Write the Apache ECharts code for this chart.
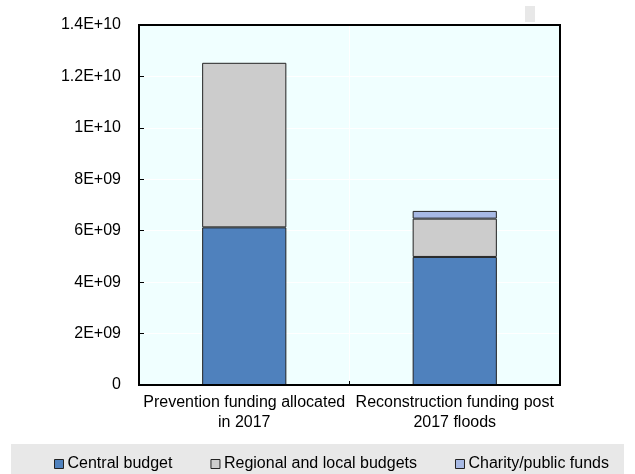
<!DOCTYPE html>
<html>
<head>
<meta charset="utf-8">
<script src="https://cdn.jsdelivr.net/npm/echarts@6/dist/echarts.min.js"></script>
<style>
  html, body { margin: 0; padding: 0; background: #fff; }
  #chart { width: 635px; height: 474px; }
</style>
</head>
<body>
<div id="chart"></div>
<script>
// Funding sources, in currency units
const categories = ['Prevention funding allocated\nin 2017', 'Reconstruction funding post\n2017 floods'];
const centralBudget = [6.13e9, 4.98e9];
const regionalLocalBudgets = [6.40e9, 1.49e9];
const charityPublicFunds = [null, 0.30e9];
const yTickLabels = ['0', '2E+09', '4E+09', '6E+09', '8E+09', '1E+10', '1.2E+10', '1.4E+10'];

const FONT = '"Liberation Sans", Arial, sans-serif';
const barBorder = { borderColor: '#222', borderWidth: 1 };

// plot frame
const GRID = { left: 139, top: 25, width: 421, height: 360 };

const chart = echarts.init(document.getElementById('chart'), null, { renderer: 'canvas' });

function series(name, data, color) {
  return {
    name: name,
    type: 'bar',
    stack: 'total',
    data: data,
    barWidth: '40%',
    itemStyle: Object.assign({ color: color }, barBorder),
    emphasis: { disabled: true }
  };
}

chart.setOption({
  animation: false,
  textStyle: { fontFamily: FONT },
  graphic: [
    {
      type: 'rect',
      left: 11, top: 444, silent: true, z: -1,
      shape: { width: 613, height: 30 },
      style: { fill: '#E8E8E8' }
    },
    {
      type: 'rect',
      left: 525, top: 6, silent: true,
      shape: { width: 10, height: 16 },
      style: { fill: '#E8E8E8' }
    },
    {
      type: 'rect',
      silent: true, z: 100,
      shape: { x: GRID.left, y: GRID.top, width: GRID.width, height: GRID.height },
      style: { fill: null, stroke: '#000', lineWidth: 2 }
    }
  ],
  grid: {
    left: GRID.left, top: GRID.top,
    width: GRID.width, height: GRID.height,
    show: true,
    backgroundColor: '#F0FFFF',
    borderWidth: 0
  },
  legend: {
    left: 49, top: 451,
    itemWidth: 9, itemHeight: 9,
    itemGap: 38,
    icon: 'rect',
    selectedMode: false,
    textStyle: { fontFamily: FONT, fontSize: 16, color: '#000', padding: [0, 0, 0, -1] },
    data: [
      { name: 'Central budget', itemStyle: { borderColor: '#222', borderWidth: 1 } },
      { name: 'Regional and local budgets', itemStyle: { borderColor: '#222', borderWidth: 1 } },
      { name: 'Charity/public funds', itemStyle: { borderColor: '#222', borderWidth: 1 } }
    ]
  },
  xAxis: {
    type: 'category',
    data: categories,
    axisLine: { show: true, lineStyle: { color: '#000', width: 2 } },
    axisTick: { show: true, inside: true, length: 4, lineStyle: { color: '#000', width: 1 } },
    splitLine: { show: true, lineStyle: { color: '#FFFFFF', width: 1 } },
    axisLabel: {
      margin: 8,
      fontFamily: FONT, fontSize: 16, color: '#000',
      lineHeight: 20, interval: 0
    }
  },
  yAxis: {
    type: 'value',
    min: 0, max: 1.4e10, interval: 2e9,
    axisLine: { show: true, lineStyle: { color: '#000', width: 2 } },
    axisTick: { show: true, inside: true, length: 5, lineStyle: { color: '#000', width: 1 } },
    splitLine: { show: true, lineStyle: { color: '#FFFFFF', width: 1 } },
    axisLabel: {
      margin: 18,
      fontFamily: FONT, fontSize: 16, color: '#000',
      formatter: function (v) { return yTickLabels[Math.round(v / 2e9)]; }
    }
  },
  series: [
    series('Central budget', centralBudget, '#4F81BD'),
    series('Regional and local budgets', regionalLocalBudgets, '#CCCCCC'),
    series('Charity/public funds', charityPublicFunds, '#A7B9E4')
  ]
});
</script>
</body>
</html>
